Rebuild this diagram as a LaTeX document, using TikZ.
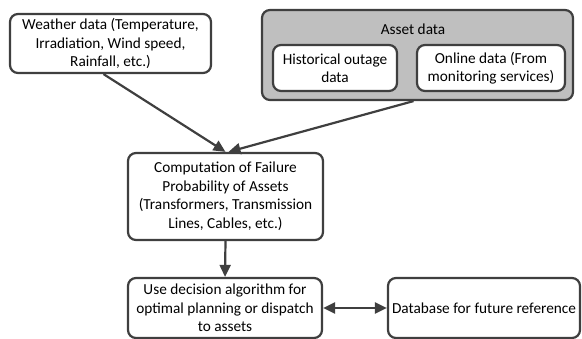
\documentclass[tikz,border=0pt]{standalone}
\usepackage{fontspec}
\setmainfont{Carlito}
\usetikzlibrary{arrows.meta,calc}
\definecolor{edge}{HTML}{3F3F3F}
\definecolor{assetfill}{HTML}{BFBFBF}
\begin{document}
\begin{tikzpicture}[x=1pt,y=1pt,
  txt/.style={font=\fontsize{15.3}{18.5}\selectfont},
  box/.style={draw=edge,line width=2.2pt,rounded corners=8pt,fill=white,align=center,inner sep=0pt,txt},
  conn/.style={draw=edge,line width=2.2pt,-{Triangle[length=12pt,width=11pt]}},
  conn2/.style={draw=edge,line width=2.2pt,{Triangle[length=12pt,width=11pt]}-{Triangle[length=12pt,width=11pt]}}]
\useasboundingbox (0,0) rectangle (582,-339);
\node[box,minimum width=201pt,minimum height=59pt] (weather) at (110.5,-43.5) {Weather data (Temperature,\\Irradiation, Wind speed,\\Rainfall, etc.)};
\node[box,fill=assetfill,minimum width=311pt,minimum height=90pt] (asset) at (417.5,-55) {};
\node[txt] (assetlbl) at (413,-29) {Asset data};
\node[box,minimum width=124pt,minimum height=46pt] (hist) at (335,-68) {Historical outage\\data};
\node[box,minimum width=148pt,minimum height=46pt] (online) at (491,-68) {Online data (From\\monitoring services)};
\node[box,minimum width=195pt,minimum height=87pt] (comp) at (225.5,-196.5) {Computation of Failure\\Probability of Assets\\(Transformers, Transmission\\Lines, Cables, etc.)};
\node[box,minimum width=194pt,minimum height=60pt] (dec) at (225,-308) {Use decision algorithm for\\optimal planning or dispatch\\to assets};
\node[box,minimum width=192pt,minimum height=60pt] (db) at (484,-308) {Database for future reference};
\draw[conn] ($(weather.south)+(-7,0)$) -- (comp.north);
\draw[conn] ($(asset.south)+(-4,0)$) -- ($(comp.north)+(3,0)$);
\draw[conn] (comp.south) -- (dec.north);
\draw[conn2] (dec.east) -- (db.west);
\end{tikzpicture}
\end{document}
